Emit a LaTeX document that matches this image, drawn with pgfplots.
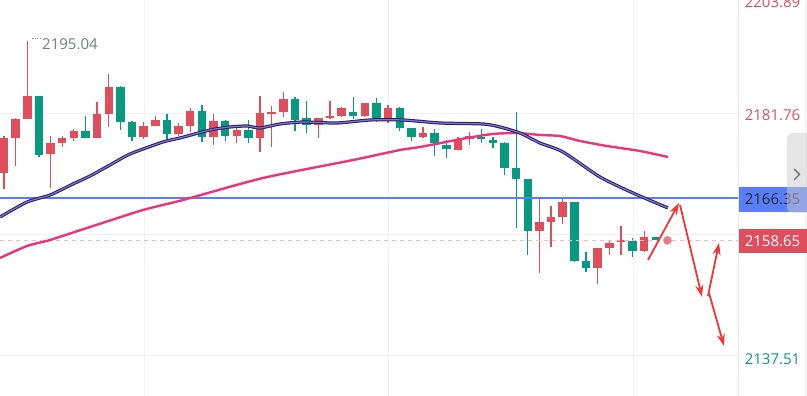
\documentclass[border=0pt]{standalone}
\usepackage{pgfplots}
\pgfplotsset{compat=1.18}
\usepackage{pgfplotstable}
\usepackage{fontspec}
\setmainfont{Open Sans}
\usetikzlibrary{arrows.meta}

\definecolor{cred}{RGB}{222,78,92}
\definecolor{cgreen}{RGB}{8,153,129}
\definecolor{cblue}{RGB}{90,126,250}
\definecolor{cpink}{RGB}{236,52,125}
\definecolor{cdark}{RGB}{40,34,80}
\definecolor{clav}{RGB}{128,112,230}
\definecolor{carrow}{RGB}{242,54,54}
\definecolor{cdash}{RGB}{245,185,192}
\definecolor{cgrid}{RGB}{240,241,246}
\definecolor{csep}{RGB}{230,231,236}
\definecolor{ctext}{RGB}{120,123,134}
\definecolor{cchev}{RGB}{110,114,125}

% red candles: index open high low close
\pgfplotstableread{
x o h l c
0 2170.97 2177.73 2168.04 2177.37
1 2177.37 2181.02 2172.25 2180.84
2 2180.84 2195.04 2180.84 2185.05
4 2174.44 2177.73 2168.22 2176.45
5 2176.45 2177.73 2175.72 2177.37
6 2177.37 2179.01 2176.82 2178.65
8 2177.37 2183.95 2177.37 2181.76
9 2181.76 2189.07 2179.38 2186.69
12 2177.55 2180.29 2177.18 2179.56
13 2179.56 2181.39 2179.56 2180.66
15 2178.10 2180.11 2177.73 2179.56
16 2179.56 2182.85 2178.46 2182.30
18 2177.55 2181.76 2176.09 2180.48
20 2177.73 2179.56 2176.45 2178.83
22 2177.37 2185.05 2174.81 2181.94
23 2181.76 2183.22 2175.72 2182.12
24 2182.12 2185.78 2181.21 2184.50
27 2179.74 2181.02 2177.37 2181.02
28 2181.02 2184.13 2180.84 2181.39
29 2181.39 2183.04 2181.21 2182.85
31 2181.39 2183.77 2181.21 2183.77
33 2180.84 2183.40 2180.11 2182.85
36 2177.55 2179.38 2177.37 2178.28
39 2175.17 2177.55 2175.17 2177.00
40 2177.18 2178.46 2176.09 2177.73
46 2160.36 2166.40 2152.68 2162.01
47 2162.01 2164.93 2157.44 2162.92
48 2162.92 2166.58 2161.64 2165.66
51 2153.60 2157.25 2150.67 2157.25
52 2157.25 2158.53 2155.97 2158.17
53 2158.35 2161.28 2155.97 2158.72
55 2156.71 2160.36 2156.52 2159.27
}\redc

% green candles: index open high low close
\pgfplotstableread{
x o h l c
3 2185.05 2185.05 2173.89 2174.26
7 2178.65 2181.39 2177.37 2177.37
10 2186.69 2186.88 2178.83 2180.29
11 2180.29 2180.48 2176.82 2177.55
14 2180.66 2181.76 2177.00 2178.10
17 2182.30 2183.40 2176.64 2177.55
19 2180.48 2180.66 2176.82 2177.73
21 2178.83 2180.66 2176.45 2177.37
25 2184.50 2184.86 2178.65 2180.66
26 2181.02 2184.13 2178.28 2179.74
30 2182.12 2184.86 2180.84 2181.39
32 2183.77 2184.68 2180.29 2180.84
34 2182.85 2183.04 2178.65 2179.20
35 2179.20 2179.20 2176.82 2177.55
37 2178.28 2179.01 2174.08 2176.45
38 2176.09 2177.00 2173.71 2175.36
41 2177.55 2179.01 2176.45 2177.18
42 2177.00 2177.55 2175.54 2176.45
43 2176.45 2176.64 2170.60 2171.88
44 2171.88 2182.12 2160.91 2169.87
45 2169.87 2169.87 2155.97 2160.36
49 2165.66 2165.66 2154.69 2154.88
50 2154.88 2156.52 2152.87 2153.60
54 2158.53 2159.08 2155.61 2156.71
56 2159.27 2159.27 2158.65 2158.65
}\greenc

% short moving average
\pgfplotstableread{
x y
-0.344 2162.92
1.976 2165.66
3.952 2166.94
5.928 2168.96
7.388 2170.42
9.107 2172.43
10.825 2174.44
13.660 2176.64
15.120 2177.37
17.698 2178.83
19.416 2179.38
20.876 2179.56
21.993 2179.20
23.711 2179.93
25.687 2180.29
28.608 2180.11
31.443 2180.66
34.278 2180.66
37.457 2180.11
41.151 2179.93
42.612 2179.38
44.330 2178.28
46.048 2176.45
48.024 2174.81
51.203 2170.24
54.038 2167.31
57.045 2164.57
}\maA

% long moving average
\pgfplotstableread{
x y
-0.344 2155.43
1.976 2157.62
3.952 2158.72
7.388 2161.09
11.942 2164.20
15.378 2166.03
22.251 2170.05
29.983 2173.34
34.021 2175.17
35.739 2175.72
39.777 2177.37
42.010 2178.10
44.072 2178.28
46.048 2177.92
47.766 2177.73
49.485 2176.82
51.804 2175.90
54.639 2174.99
57.045 2173.89
}\maB

\pgfplotsset{candle/.style 2 args={only marks, mark=*, mark size=0pt,
  mark options={draw opacity=0, fill opacity=0}, forget plot,
  error bars/.cd, y dir=both, y explicit, error mark=none,
  error bar style={line width=#2, color=#1}}}

\begin{document}
\begin{tikzpicture}
\begin{axis}[
  scale only axis, width=738pt, height=396pt,
  xmin=-0.344, xmax=63.06, ymin=2130.19, ymax=2202.60,
  axis line style={draw=none}, xtick=\empty, ytick=\empty,
  clip=true,
]
% grid lines
\addplot[cgrid, line width=1pt, forget plot] coordinates {(-0.344,2181.76) (63.06,2181.76)};
\addplot[cgrid, line width=1pt, forget plot] coordinates {(-0.344,2159.635) (63.06,2159.635)};
\addplot[cgrid, line width=1pt, forget plot] coordinates {(-0.344,2137.51) (63.06,2137.51)};
\addplot[cgrid, line width=1pt, forget plot] coordinates {(12.03,2130.19) (12.03,2202.60)};
\addplot[cgrid, line width=1pt, forget plot] coordinates {(32.99,2130.19) (32.99,2202.60)};
\addplot[cgrid, line width=1pt, forget plot] coordinates {(54.04,2130.19) (54.04,2202.60)};
% wicks
\addplot[candle={cred}{1.3pt}]
  table[x=x, y expr={(\thisrow{h}+\thisrow{l})/2}, y error expr={(\thisrow{h}-\thisrow{l})/2}] {\redc};
\addplot[candle={cgreen}{1.3pt}]
  table[x=x, y expr={(\thisrow{h}+\thisrow{l})/2}, y error expr={(\thisrow{h}-\thisrow{l})/2}] {\greenc};
% bodies
\addplot[candle={cred}{8.5pt}]
  table[x=x, y expr={(\thisrow{o}+\thisrow{c})/2}, y error expr={max(abs(\thisrow{c}-\thisrow{o})/2,0.1)}] {\redc};
\addplot[candle={cgreen}{8.5pt}]
  table[x=x, y expr={(\thisrow{o}+\thisrow{c})/2}, y error expr={max(abs(\thisrow{c}-\thisrow{o})/2,0.1)}] {\greenc};
% horizontal levels
\addplot[cdash, line width=1.3pt, dash pattern=on 4pt off 4pt] coordinates {(-0.344,2158.65) (63.06,2158.65)};
\addplot[cblue, line width=2pt] coordinates {(-0.344,2166.35) (63.06,2166.35)};
% moving averages
\addplot[cpink, line width=2.4pt, smooth, tension=0.4] table[x=x,y=y] {\maB};
\addplot[cdark, line width=3.2pt, smooth, tension=0.4] table[x=x,y=y] {\maA};
\addplot[clav, line width=1.2pt, smooth, tension=0.4] table[x=x,y=y] {\maA};
% live price dot
\addplot[only marks, mark=*, mark size=4pt, color=cred!85, opacity=0.85] coordinates {(57,2158.65)};
% arrows
\addplot[carrow, line width=1.8pt, -{Stealth[length=12pt,width=8pt]}] coordinates {(55.33,2155.06) (57.99,2165.48)};
\addplot[carrow, line width=1.8pt, -{Stealth[length=12pt,width=8pt]}] coordinates {(58.08,2165.12) (59.97,2148.29)};
\addplot[carrow, line width=1.8pt, -{Stealth[length=12pt,width=8pt]}] coordinates {(60.48,2148.48) (61.43,2158.17)};
\addplot[carrow, line width=1.8pt, -{Stealth[length=12pt,width=8pt]}] coordinates {(60.57,2149.03) (61.86,2139.33)};
\coordinate (TL) at (rel axis cs:0,1);
\end{axis}
\begin{scope}[shift={(TL)}, x=1pt, y=-1pt, every node/.style={font=\fontsize{15}{18}\selectfont, inner sep=0pt}]
\draw[csep, line width=1pt] (738.5,0) -- (738.5,396);
\draw[cgrid, line width=1pt] (805,0) -- (805,396);
% high label
\draw[ctext, line width=1pt, dash pattern=on 1pt off 1.6pt] (32,39) -- (41,39);
\node[anchor=west, text=ctext] at (42,44) {2195.04};
% price scale
\node[text=cred] at (772.5,2.5) {2203.89};
\node[text=cred] at (772.5,115.5) {2181.76};
\node[text=cgreen] at (772.5,359) {2137.51};
\fill[cblue] (739,187) rectangle (807,212);
\node[text=black!85] at (772.5,199.5) {2166.35};
\fill[cred] (739,229) rectangle (807,253);
\node[text=white] at (772.5,241) {2158.65};
\fill[gray!40, opacity=0.5, rounded corners=6pt] (787,133) rectangle (815,213);
\draw[cchev, line width=1.4pt] (794,169) -- (799.5,174.5) -- (794,180);
\pgfresetboundingbox
\path (0,0) rectangle (807,396);
\end{scope}
\end{tikzpicture}
\end{document}
